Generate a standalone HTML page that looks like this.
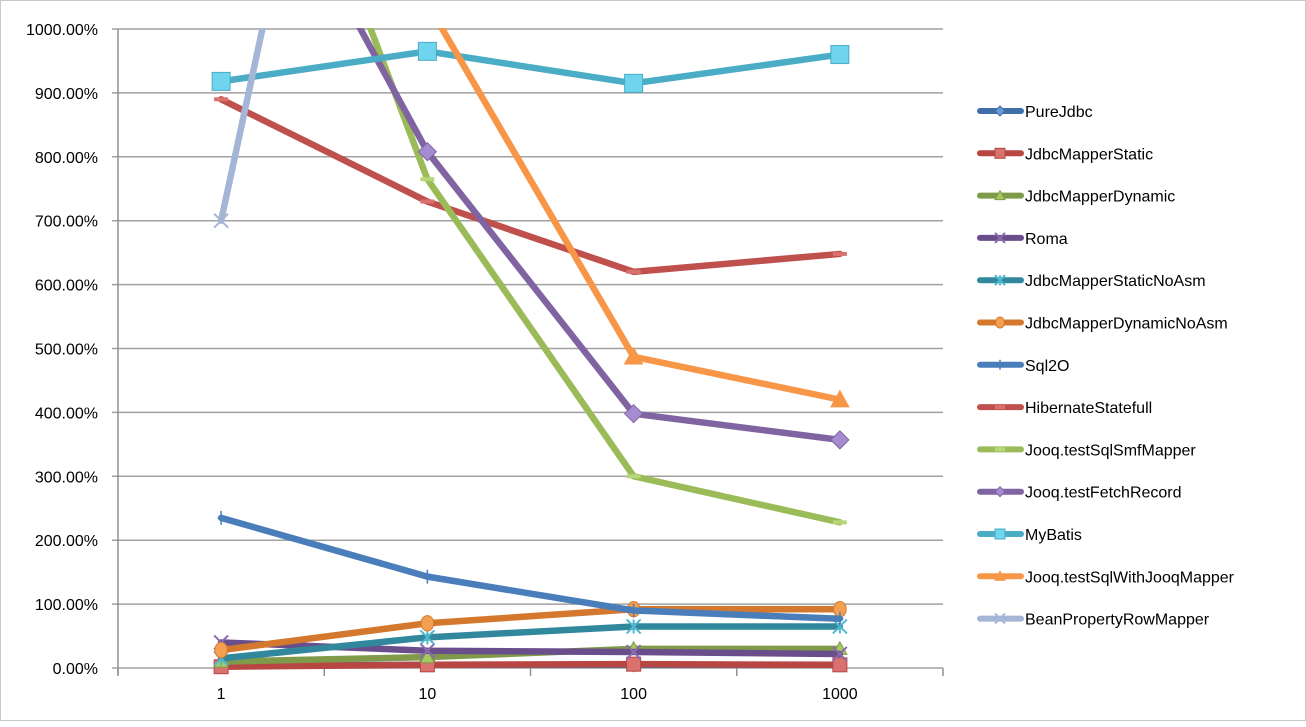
<!DOCTYPE html>
<html><head><meta charset="utf-8"><style>
body{margin:0;background:#fff;}
svg text{font-family:"Liberation Sans",sans-serif;}
</style></head><body>
<svg id="chart" width="1306" height="722" xmlns="http://www.w3.org/2000/svg">
<defs><clipPath id="clip"><rect x="118" y="28" width="830" height="660"/></clipPath></defs>
<rect x="0.5" y="0.5" width="1305" height="720" fill="#fff" stroke="#c8c8c8"/>
<g id="grid"></g><g id="axes"></g><g id="series" clip-path="url(#clip)"></g><g id="legend"></g>
</svg>
<script>
const categories = ["1","10","100","1000"];
const yTicks = [0,100,200,300,400,500,600,700,800,900,1000];
const seriesNames = ["PureJdbc","JdbcMapperStatic","JdbcMapperDynamic","Roma","JdbcMapperStaticNoAsm","JdbcMapperDynamicNoAsm","Sql2O","HibernateStatefull","Jooq.testSqlSmfMapper","Jooq.testFetchRecord","MyBatis","Jooq.testSqlWithJooqMapper","BeanPropertyRowMapper"];
const pureJdbc = [4,5,5,5];
const jdbcMapperStatic = [2,5,6,5];
const jdbcMapperDynamic = [10,17,30,30];
const roma = [40,27,25,22];
const jdbcMapperStaticNoAsm = [15,48,65,65];
const jdbcMapperDynamicNoAsm = [28,70,92,92];
const sql2o = [235,143,90,77];
const hibernateStatefull = [890,730,620,648];
const jooqSmf = [1620,765,300,228];
const jooqFetch = [1400,808,398,357];
const myBatis = [918,965,915,960];
const jooqWithMapper = [1700,1040,487,420];
const beanProperty = [700,2200,null,null];
const seriesValues = [pureJdbc,jdbcMapperStatic,jdbcMapperDynamic,roma,jdbcMapperStaticNoAsm,jdbcMapperDynamicNoAsm,sql2o,hibernateStatefull,jooqSmf,jooqFetch,myBatis,jooqWithMapper,beanProperty];
const colors=["#3f6fa8","#b84643","#7f9a48","#6a4e8c","#31889c","#d4782e","#4a7ebb","#c0504d","#9bbb59","#8064a2","#4bacc6","#f79646","#a5b5d5"];
const markerFill=["#6a9ad6","#d9726f","#a6c963","#8a6bb0","#4fb8cf","#f5a050","#4a7ebb","#d9726f","#b7d67a","#a58cd0","#6fd4ee","#f79646","#a5b5d5"];
const markers=["diamond","square","triangle","x","star","circle","plus","dash","dash","diamond","square","triangle","x"];
const NS="http://www.w3.org/2000/svg";
const x0=118,x1=943,y0=668,y1=29;
const xs=i=>x0+(x1-x0)/categories.length*(i+0.5);
const ys=v=>y0-(y0-y1)*v/1000;
function mk(t,a,p){const e=document.createElementNS(NS,t);for(const k in a)e.setAttribute(k,a[k]);p.appendChild(e);return e;}
const grid=document.getElementById('grid'),axes=document.getElementById('axes'),ser=document.getElementById('series'),leg=document.getElementById('legend');
yTicks.forEach(v=>{
 const l=mk('line',{x1:x0-6,x2:x1,y1:ys(v),y2:ys(v),stroke:'#a0a0a0','stroke-width':1.5},grid);
 
 
 const t=mk('text',{x:98,y:ys(v)+6,'text-anchor':'end','font-size':16,fill:'#000'},axes);t.textContent=v.toFixed(2)+'%';
 
 
});
const ya=mk('line',{x1:x0,x2:x0,y1:y1,y2:y0+6,stroke:'#909090','stroke-width':1.5},axes);


for(let i=0;i<=categories.length;i++){const xx=x0+(x1-x0)/categories.length*i;mk('line',{x1:xx,x2:xx,y1:y0,y2:y0+8,stroke:'#909090','stroke-width':1.5},axes);}
categories.forEach((c,i)=>{const t=mk('text',{x:xs(i),y:y0+31,'text-anchor':'middle','font-size':16},axes);t.textContent=c;
 
 });
function marker(g,type,x,y,c,f,s){
 s=s||7;
 if(type==='diamond')mk('polygon',{points:`${x},${y-s} ${x+s},${y} ${x},${y+s} ${x-s},${y}`,fill:f,stroke:c},g);
 else if(type==='square')mk('rect',{x:x-s,y:y-s,width:2*s,height:2*s,fill:f,stroke:c},g);
 else if(type==='triangle')mk('polygon',{points:`${x},${y-s} ${x+s},${y+s*0.8} ${x-s},${y+s*0.8}`,fill:f,stroke:c},g);
 else if(type==='circle')mk('ellipse',{cx:x,cy:y,rx:s*0.9,ry:s*1.1,fill:f,stroke:c},g);
 else if(type==='x'){mk('path',{d:`M${x-s} ${y-s}L${x+s} ${y+s}M${x+s} ${y-s}L${x-s} ${y+s}`,stroke:f,'stroke-width':2},g);}
 else if(type==='star'){mk('path',{d:`M${x-s} ${y-s}L${x+s} ${y+s}M${x+s} ${y-s}L${x-s} ${y+s}M${x} ${y-s}L${x} ${y+s}`,stroke:f,'stroke-width':2},g);}
 else if(type==='plus'){mk('path',{d:`M${x} ${y-s}L${x} ${y+s}M${x-s/2} ${y}L${x+s/2} ${y}`,stroke:c,'stroke-width':1.5},g);}
 else if(type==='dash')mk('rect',{x:x-s,y:y-2,width:2*s,height:4,fill:f},g);
}
seriesValues.forEach((vals,si)=>{
 const g=mk('g',{},ser);
 
 
 let d='';vals.forEach((v,i)=>{if(v==null)return;d+=(d?'L':'M')+xs(i)+' '+ys(v);});
 mk('path',{d:d,fill:'none',stroke:colors[si],'stroke-width':6.5,'stroke-linejoin':'round','stroke-linecap':'round'},g);
 vals.forEach((v,i)=>{if(v==null)return;marker(g,markers[si],xs(i),ys(v),colors[si],markerFill[si],si===9?9:(si===10?9:(si===11?9:7)));});
 const ly=111+si*42.3;
 const lg=mk('g',{},leg);
 
 
 mk('line',{x1:980,x2:1021,y1:ly,y2:ly,stroke:colors[si],'stroke-width':6,'stroke-linecap':'round'},lg);
 marker(lg,markers[si],1000,ly,colors[si],markerFill[si],5);
 const t=mk('text',{x:1025,y:ly+6,'font-size':16},lg);t.textContent=seriesNames[si];
});
</script>
</body></html>
